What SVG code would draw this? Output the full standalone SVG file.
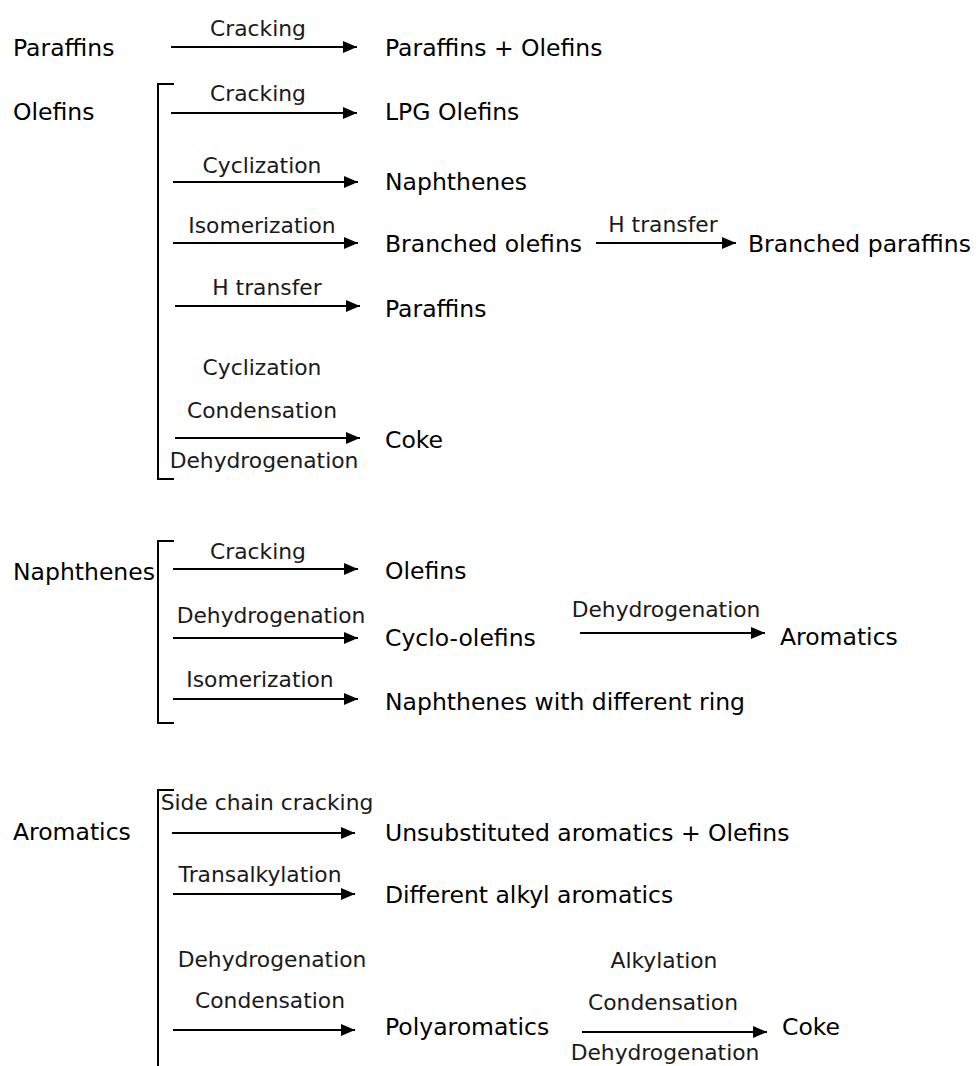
<svg xmlns="http://www.w3.org/2000/svg" width="978" height="1066" viewBox="0 0 978 1066">
<defs>
<marker id="ah" markerUnits="userSpaceOnUse" markerWidth="15" markerHeight="13" refX="14" refY="6" orient="auto">
<path d="M0,0 L14,6 L0,12 z" fill="#000"/>
</marker>
<style>
.n{font-family:"DejaVu Sans","Liberation Sans",sans-serif;font-size:23.5px;fill:#000}
.l{font-family:"DejaVu Sans","Liberation Sans",sans-serif;font-size:21.8px;fill:#1a1a1a;text-anchor:middle}
.a{stroke:#000;stroke-width:2;fill:none;marker-end:url(#ah)}
.b{stroke:#000;stroke-width:2;fill:none}
</style>
</defs>
<rect width="978" height="1066" fill="#fff"/>
<g id="connectors">
<line class="a" x1="171" y1="47" x2="357" y2="47"/>
<line class="a" x1="171" y1="113" x2="357" y2="113"/>
<line class="a" x1="173" y1="182" x2="358" y2="182"/>
<line class="a" x1="173" y1="243" x2="358" y2="243"/>
<line class="a" x1="596" y1="243" x2="736" y2="243"/>
<line class="a" x1="175" y1="306" x2="360" y2="306"/>
<line class="a" x1="175" y1="438" x2="360" y2="438"/>
<line class="a" x1="173" y1="569" x2="358" y2="569"/>
<line class="a" x1="173" y1="638" x2="358" y2="638"/>
<line class="a" x1="580" y1="633" x2="765" y2="633"/>
<line class="a" x1="173" y1="699" x2="358" y2="699"/>
<line class="a" x1="172" y1="833" x2="355" y2="833"/>
<line class="a" x1="173" y1="894" x2="355" y2="894"/>
<line class="a" x1="173" y1="1030" x2="355" y2="1030"/>
<line class="a" x1="582" y1="1032" x2="767" y2="1032"/>
<path class="b" d="M174,84 H158 V479 H174"/>
<path class="b" d="M174,541 H158 V723 H174"/>
<path class="b" d="M174,790 H158 V1066"/>
</g>
<g id="labels">
<text class="l" x="258" y="36">Cracking</text>
<text class="l" x="258" y="101">Cracking</text>
<text class="l" x="262" y="173">Cyclization</text>
<text class="l" x="262" y="233">Isomerization</text>
<text class="l" x="663" y="232">H transfer</text>
<text class="l" x="267" y="295">H transfer</text>
<text class="l" x="262" y="375">Cyclization</text>
<text class="l" x="262" y="418">Condensation</text>
<text class="l" x="264" y="468">Dehydrogenation</text>
<text class="l" x="258" y="559">Cracking</text>
<text class="l" x="271" y="623">Dehydrogenation</text>
<text class="l" x="666" y="617">Dehydrogenation</text>
<text class="l" x="260" y="687">Isomerization</text>
<text class="l" x="267" y="810">Side chain cracking</text>
<text class="l" x="260" y="882">Transalkylation</text>
<text class="l" x="272" y="967">Dehydrogenation</text>
<text class="l" x="270" y="1008">Condensation</text>
<text class="l" x="664" y="968">Alkylation</text>
<text class="l" x="663" y="1010">Condensation</text>
<text class="l" x="665" y="1060">Dehydrogenation</text>
</g>
<g id="n-paraffins"><text class="n" x="13" y="56">Paraffins</text></g>
<g id="n-paraffins-olefins"><text class="n" x="385" y="56">Paraffins + Olefins</text></g>
<g id="n-olefins"><text class="n" x="13" y="120">Olefins</text></g>
<g id="n-lpg-olefins"><text class="n" x="385" y="120">LPG Olefins</text></g>
<g id="n-naphthenes-1"><text class="n" x="385" y="190">Naphthenes</text></g>
<g id="n-branched-olefins"><text class="n" x="385" y="252">Branched olefins</text></g>
<g id="n-branched-paraffins"><text class="n" x="748" y="252">Branched paraffins</text></g>
<g id="n-paraffins-2"><text class="n" x="385" y="317">Paraffins</text></g>
<g id="n-coke-1"><text class="n" x="385" y="448">Coke</text></g>
<g id="n-naphthenes"><text class="n" x="13" y="580">Naphthenes</text></g>
<g id="n-olefins-2"><text class="n" x="385" y="579">Olefins</text></g>
<g id="n-cyclo-olefins"><text class="n" x="385" y="646">Cyclo-olefins</text></g>
<g id="n-aromatics-2"><text class="n" x="780" y="645">Aromatics</text></g>
<g id="n-naphthenes-ring"><text class="n" x="385" y="710">Naphthenes with different ring</text></g>
<g id="n-aromatics"><text class="n" x="13" y="840">Aromatics</text></g>
<g id="n-unsubstituted"><text class="n" x="385" y="841">Unsubstituted aromatics + Olefins</text></g>
<g id="n-different-alkyl"><text class="n" x="385" y="903">Different alkyl aromatics</text></g>
<g id="n-polyaromatics"><text class="n" x="385" y="1035">Polyaromatics</text></g>
<g id="n-coke-2"><text class="n" x="782" y="1035">Coke</text></g>
</svg>
